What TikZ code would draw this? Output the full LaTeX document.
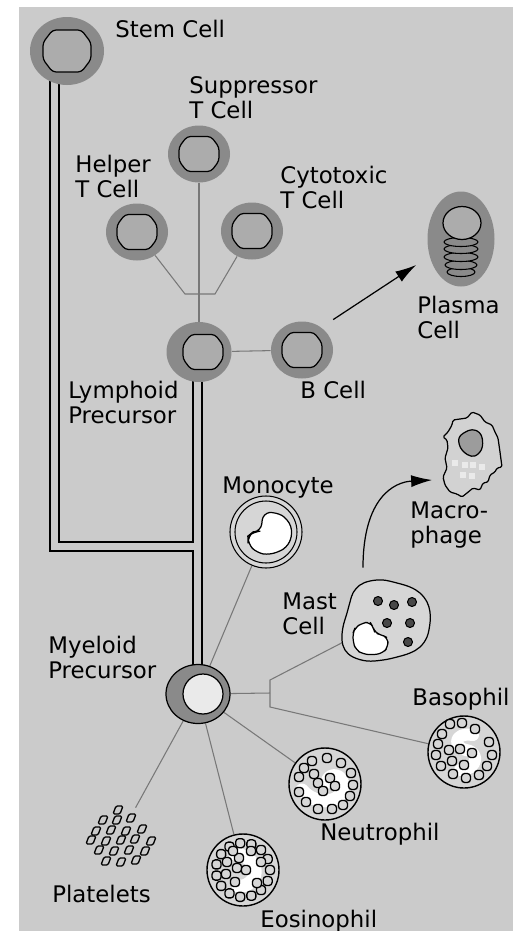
\documentclass[tikz,border=0pt]{standalone}
\usepackage{fontspec}
\setmainfont{DejaVu Sans}
\usetikzlibrary{shapes.geometric,arrows.meta,backgrounds}

% greys of the plate
\definecolor{hemaBack}{RGB}{203,203,203}
\definecolor{hemaRing}{RGB}{138,138,138}
\definecolor{hemaNucleus}{RGB}{172,172,172}
\definecolor{hemaLink}{RGB}{120,120,120}
\definecolor{hemaPale}{RGB}{234,234,234}
\definecolor{hemaCell}{RGB}{214,214,214}
\definecolor{hemaMacro}{RGB}{210,210,210}
\definecolor{hemaMacroNuc}{RGB}{156,156,156}
\definecolor{hemaGranule}{RGB}{72,72,72}

\newcommand{\cellfont}{\fontsize{13}{14}\selectfont}

\tikzset{
  % octagonal nucleus of the round cells
  lymphnuc/.pic={
    \draw[fill=hemaNucleus, line width=0.7pt, rounded corners=2pt]
      (-20,-7) -- (-12,-17.5) -- (12,-17.5) -- (20,-7) -- (20,7) -- (12,17.5) -- (-12,17.5) -- (-20,7) -- cycle;
  },
}

\begin{document}
\begin{tikzpicture}
% lineage plate on a pixel grid, y runs downwards
\def\pxsz{0.02cm}
\begin{scope}[x=\pxsz, y=-\pxsz, line join=round,
  lymphocyte/.style={ellipse, fill=hemaRing, inner sep=0pt, minimum width=62*\pxsz, minimum height=57*\pxsz},
  granulocyte/.style={circle, draw=black, line width=0.8pt, fill=hemaCell, inner sep=0pt, minimum size=72*\pxsz},
  granule/.style={draw=black, fill=hemaCell, line width=0.75pt, rounded corners=1.8pt},
  platelet/.style={draw=black, line width=0.75pt, rounded corners=0.8pt},
  nucwhite/.style={draw=white, line width=12*\pxsz, line cap=round},
  lbl/.style={font=\cellfont, inner sep=0pt, align=left, anchor=base west},
  link/.style={draw=hemaLink, line width=0.6pt},
  tube/.style={draw=black, line width=0.7pt},
  growth/.style={draw=black, line width=0.7pt, -{Latex[length=0.42cm, width=0.24cm]}}]
  \useasboundingbox (0,0) rectangle (513,931);

  % Lymphoid branch
  \node[lymphocyte, minimum width=74*\pxsz, minimum height=68*\pxsz] (stem) at (67,51) {};
  \pic[scale=1.2] at (stem) {lymphnuc};
  \node[lymphocyte] (supp) at (199,154) {};
  \pic at (supp) {lymphnuc};
  \node[lymphocyte] (helper) at (137,232) {};
  \pic at (helper) {lymphnuc};
  \node[lymphocyte] (cyto) at (252,231) {};
  \pic at (cyto) {lymphnuc};
  \node[lymphocyte, minimum width=65*\pxsz, minimum height=60*\pxsz] (lymph) at (199,352) {};
  \pic at ([xshift=4*\pxsz]lymph.center) {lymphnuc};
  \node[lymphocyte] (bcell) at (302,350) {};
  \pic at (bcell) {lymphnuc};

  % Plasma cell with its stacked reticulum
  \node[ellipse, fill=hemaRing, inner sep=0pt, minimum width=67*\pxsz, minimum height=95*\pxsz] (plasma) at (461,239) {};
  \begin{scope}[shift={(plasma.center)}]
    \foreach \dy/\rx in {33/14, 26/16, 18/17, 10/17, 3/17}
      \draw[fill=hemaRing, line width=0.6pt] (0,\dy) ellipse ({\rx} and 4.5);
    \draw[fill=hemaNucleus, line width=0.7pt] (1,-16) ellipse (19 and 16.5);
  \end{scope}

  % Myeloid branch
  \node[ellipse, draw=black, line width=0.7pt, fill=hemaRing, inner sep=0pt, minimum width=64*\pxsz, minimum height=59*\pxsz] (myelo) at (198,694) {};
  \draw[fill=hemaPale, line width=0.7pt] (myelo.center) ++(5,0) circle[radius=20];

  % Monocyte
  \node[circle, draw=black, line width=0.6pt, fill=hemaCell, inner sep=0pt, minimum size=72*\pxsz] (mono) at (266,532) {};
  \begin{scope}[shift={(mono.center)}]
    \draw[line width=0.6pt] (0,0) circle[radius=31];
    \draw[fill=white, line width=0.7pt, rounded corners=4pt] (-3,-19) -- (-5,-1) -- (-13,0) -- (-18,4) -- (-18,12) -- (-9,21) -- (4,23) -- (21,16) -- (27,1) -- (22,-13) -- (10,-20) -- cycle;
  \end{scope}

  % Macrophage
  \node[inner sep=0pt, minimum width=59*\pxsz, minimum height=85*\pxsz] (macro) at (472,454) {};
  \begin{scope}[shift={(macro.center)}]
    \draw[fill=hemaMacro, line width=0.7pt, rounded corners=0.8pt] (-19,-34) -- (-5,-36) -- (0,-42) -- (8,-39) -- (13,-32) -- (20,-29) -- (23,-22) -- (26,-16) -- (28,-2) -- (30,13) -- (25,14) -- (23,18) -- (18,21) -- (16,28) -- (11,29) -- (8,36) -- (1,34) -- (-5,39) -- (-10,43) -- (-15,40) -- (-22,38) -- (-27,31) -- (-29,23) -- (-25,14) -- (-27,4) -- (-24,-6) -- (-25,-14) -- (-29,-17) -- (-24,-22) -- (-20,-29) -- cycle;
    \draw[fill=hemaMacroNuc, line width=0.7pt, rounded corners=2pt] (-9,-21) -- (0,-25) -- (8,-22) -- (11,-14) -- (10,-4) -- (3,3) -- (-5,1) -- (-12,-6) -- (-14,-16) -- cycle;
    \foreach \p in {(-17,9),(-7,11),(1,11),(10,13),(-9,21),(0,22)}
      \fill[hemaPale] \p ++(-3,-3) rectangle ++(6,6);
  \end{scope}

  % Mast cell
  \node[ellipse, inner sep=0pt, minimum width=88*\pxsz, minimum height=80*\pxsz] (mast) at (386,620) {};
  \begin{scope}[shift={(mast.center)}]
    \draw[fill=hemaCell, line width=0.7pt] plot[smooth cycle, tension=0.6] coordinates {(-33,-27) (-26,-35) (-16,-39) (-3,-40) (11,-37) (24,-33) (34,-27) (41,-18) (44,-8) (44,3) (41,17) (34,27) (24,33) (11,37) (-3,40) (-19,41) (-33,37) (-41,30) (-44,20) (-43,7) (-39,-7) (-36,-18)};
    \draw[fill=white, line width=0.7pt, rounded corners=3pt] (-31,8) -- (-24,3) -- (-16,2) -- (-13,7) -- (-11,13) -- (-4,15) -- (2,18) -- (2,27) -- (-3,33) -- (-13,35) -- (-23,34) -- (-30,30) -- (-33,22) -- (-33,13) -- cycle;
    \foreach \p in {(-8,-19),(8,-15),(26,-18),(1,3),(24,3),(22,22)}
      \draw[fill=hemaGranule, line width=0.6pt] \p circle[radius=4.5];
  \end{scope}

  % Basophil
  \node[granulocyte] (baso) at (464,752) {};
  \begin{scope}[shift={(baso.center)}]
    \draw[nucwhite] (9,-17) .. controls (-12,-20) and (-10,-4) .. (2,-2) .. controls (16,0) and (14,18) .. (-4,18);
    \foreach \p in {(-14,-28),(-2,-29),(11,-23),(25,-10),(28,3),(23,14),(15,23),(2,26),(-11,22),(-23,14),(-28,3),(-26,-8),(-22,-18),(-15,-2),(-4,-3),(8,1),(-12,9),(0,13)}
      \draw[granule] \p ++(-4.5,-4.5) rectangle ++(9,9);
  \end{scope}

  % Neutrophil
  \node[granulocyte] (neutro) at (325,784) {};
  \begin{scope}[shift={(neutro.center)}]
    \draw[nucwhite, line width=13*\pxsz] (-23,6) .. controls (-10,22) and (18,20) .. (18,2) .. controls (18,-10) and (4,-12) .. (2,-2);
    \foreach \p in {(-13,-23),(2,-26),(16,-21),(26,-11),(28,1),(25,12),(18,21),(7,25),(-7,25),(-19,18),(-26,8),(-26,-7),(-21,-16),(-11,-10),(-7,-1),(5,-6),(-2,7),(10,2)}
      \draw[granule] \p ++(-4.5,-4.5) rectangle ++(9,9);
  \end{scope}

  % Eosinophil
  \node[granulocyte] (eosino) at (243,870) {};
  \begin{scope}[shift={(eosino.center)}]
    \draw[nucwhite, line width=13*\pxsz] (-8,-16) .. controls (10,-14) and (16,0) .. (10,9) .. controls (6,15) and (0,17) .. (-5,16);
    \foreach \a in {0,24,...,336}
      \draw[granule] (\a:27) ++(-4.5,-4.5) rectangle ++(9,9);
    \foreach \p in {(-16,-8),(-17,4),(-8,12),(-6,-2),(3,0),(-4,-12),(8,-19),(-10,-19),(14,13),(18,-8)}
      \draw[granule] \p ++(-4.5,-4.5) rectangle ++(9,9);
  \end{scope}

  % Platelets
  \node[circle, inner sep=0pt, minimum size=64*\pxsz] (plat) at (120,836) {};
  \begin{scope}[shift={(plat.center)}]
    \foreach \p in {(-2,-26),(-17,-16),(-3,-16),(11,-18),(-24,-5),(-9,-6),(6,-5),(22,-7),(-29,4),(-14,5),(1,4),(15,3),(31,5),(-21,14),(-6,15),(9,14),(25,15),(-14,25),(1,26),(16,24)}
      \draw[platelet] \p ++(-5,4) -- ++(3,-8) -- ++(7,0) -- ++(-3,8) -- cycle;
  \end{scope}

  % Labels
  \node[lbl] (stemlbl) at (115,37) {Stem Cell};
  \node[lbl] (supplbl) at (189,118) {Suppressor\\T Cell};
  \node[lbl] (helperlbl) at (75,197) {Helper\\T Cell};
  \node[lbl] (cytolbl) at (280,208) {Cytotoxic\\T Cell};
  \node[lbl] (plasmalbl) at (417,338) {Plasma\\Cell};
  \node[lbl] (bcelllbl) at (300,398) {B Cell};
  \node[lbl] (lymphlbl) at (68,423) {Lymphoid\\Precursor};
  \node[lbl] (monolbl) at (222,493) {Monocyte};
  \node[lbl] (macrolbl) at (410,543) {Macro-\\phage};
  \node[lbl] (mastlbl) at (282,634) {Mast\\Cell};
  \node[lbl] (myelolbl) at (48,678) {Myeloid\\Precursor};
  \node[lbl] (basolbl) at (412,705) {Basophil};
  \node[lbl] (neutrolbl) at (320,840) {Neutrophil};
  \node[lbl] (eosinolbl) at (260,927) {Eosinophil};
  \node[lbl] (platlbl) at (52,902) {Platelets};

  % Paper and connectors, kept behind the cells
  \begin{pgfonlayer}{background}
    \fill[white] (0,0) rectangle (513,931);
    \fill[hemaBack] (19,7) rectangle (513,931);
    % double tube out of the stem cell
    \coordinate (tubeA) at (193,551);
    \coordinate (tubeB) at (193,542);
    \coordinate (tubeC) at (202,694);
    \draw[tube] (stem.center) ++(-17,0) |- (tubeA) -- (tubeA |- myelo.center);
    \draw[tube] (stem.center) ++(-8,0) |- (tubeB) -- (tubeB |- lymph.center);
    \draw[tube] (lymph.center -| tubeC) -- (tubeC);
    % T cell fork
    \coordinate (tbarL) at (185,294);
    \coordinate (tbarR) at (215,294);
    \draw[link] (helper) -- (tbarL) -- (tbarR) -- (cyto);
    \draw[link] (supp) -- (lymph);
    \draw[link] (lymph) -- (bcell);
    % myeloid fan
    \coordinate (fork) at (270,693);
    \coordinate (forkU) at (270,680);
    \coordinate (forkD) at (270,707);
    \draw[link] (myelo) -- (fork);
    \draw[link] (mast) -- (forkU) -- (forkD) -- (baso);
    \draw[link] (myelo) -- (mono);
    \draw[link] (myelo) -- (neutro);
    \draw[link] (myelo) -- (eosino);
    \draw[link] (myelo) -- (plat);
  \end{pgfonlayer}

  % Maturation arrows
  \draw[growth] ([xshift=9*\pxsz,yshift=10*\pxsz]bcell.north east) -- ([xshift=-11*\pxsz,yshift=-26*\pxsz]plasma.west);
  \draw[growth] ([xshift=-23*\pxsz,yshift=12*\pxsz]mast.north) .. controls +(0,-70) and +(-38,2) .. ([xshift=-10*\pxsz,yshift=-26*\pxsz]macro.west);
\end{scope}
\end{tikzpicture}
\end{document}
